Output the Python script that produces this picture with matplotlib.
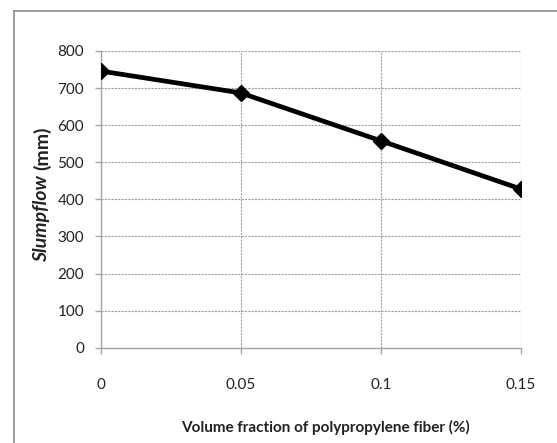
import matplotlib
matplotlib.use("Agg")
import matplotlib.pyplot as plt
from matplotlib.lines import Line2D

fiber_fraction = [0, 0.05, 0.1, 0.15]
slumpflow = [746, 687, 558, 428]
x_ticks = [0, 0.05, 0.1, 0.15]
x_tick_labels = ["0", "0.05", "0.1", "0.15"]
y_ticks = [0, 100, 200, 300, 400, 500, 600, 700, 800]

plt.rcParams['font.family'] = ['Lato', 'DejaVu Sans']

fig = plt.figure(figsize=(5.57, 4.43), dpi=100)
ax = fig.add_axes([100.7/557, 1-347.7/443, 420/557, (347.7-51)/443])

ax.plot(fiber_fraction, slumpflow, color='black', lw=3.4, marker='D',
        markersize=8.5, zorder=3, solid_joinstyle='round')

ax.set_xlim(0, 0.15)
ax.set_ylim(0, 800)
ax.set_xticks(x_ticks)
ax.set_xticklabels(x_tick_labels)
ax.set_yticks(y_ticks)

ax.grid(True, color='#a0a0a0', linestyle=(0, (2, 1)), lw=0.8)
for s in ['top', 'right']:
    ax.spines[s].set_visible(False)
for s in ['left', 'bottom']:
    ax.spines[s].set_color('#a6a6a6')
    ax.spines[s].set_linewidth(1.0)
ax.tick_params(axis='both', colors='#a6a6a6', labelcolor='#222222', labelsize=11,
               length=4, width=1.0)
ax.tick_params(axis='y', pad=8)
ax.tick_params(axis='x', pad=18)

ax.set_xlabel("Volume fraction of polypropylene fiber (%)", fontsize=11,
              fontweight='bold', color='#222222')
ax.xaxis.set_label_coords(0.535, -0.245)

# y label: italic "Slumpflow" + bold "(mm)"
lx = 42/557
y_bottom = 1-262/443
t1 = fig.text(lx, y_bottom, "Slumpflow", rotation=90, fontsize=14,
              fontweight='bold', fontstyle='italic', ha='center', va='bottom', color='#222222')
fig.canvas.draw()
h = t1.get_window_extent().height
fig.text(lx, y_bottom + (h + 5)/443, "(mm)", rotation=90, fontsize=14,
         fontweight='bold', ha='center', va='bottom', color='#222222')

# figure border (top and left)
bx = 13.7/557
by = 1-10.5/443
fig.add_artist(Line2D([bx, 1], [by, by], transform=fig.transFigure, color='#8c8c8c', lw=1.2))
fig.add_artist(Line2D([bx, bx], [0, by], transform=fig.transFigure, color='#8c8c8c', lw=1.2))

fig.savefig("out.png", dpi=100)
